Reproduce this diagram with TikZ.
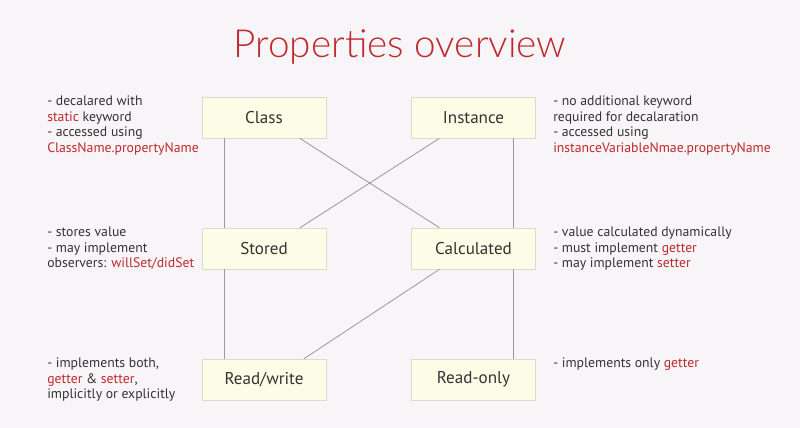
\documentclass[tikz,border=0pt]{standalone}
\usepackage{fontspec}
\setmainfont{PT Sans}
\newfontfamily\titlefont{Lato Light}
\definecolor{bg}{HTML}{F7F5F7}
\definecolor{rd}{HTML}{C0282D}
\definecolor{bx}{HTML}{FBFDE6}
\definecolor{bd}{HTML}{D9DCC8}
\definecolor{tx}{HTML}{333333}
\begin{document}
\begin{tikzpicture}[x=0.75pt,y=-0.75pt,
  box/.style={draw=bd,fill=bx,minimum width=93pt,minimum height=30.75pt,inner sep=0pt,font=\fontsize{12.8}{14}\selectfont,text=tx},
  note/.style={anchor=north west,align=left,font=\fontsize{10.3}{11.6}\selectfont,text=tx,inner sep=0pt},
  ln/.style={draw=gray!80,line width=0.6pt}]
\fill[bg] (0,0) rectangle (800,428);
\node[text=rd,font=\titlefont\fontsize{29}{32}\selectfont] (title) at (400,47) {Properties overview};
\node[box] (class) at (264,117.5) {Class};
\node[box] (inst) at (473.5,117.5) {Instance};
\node[box] (stored) at (264,248.5) {Stored};
\node[box] (calc) at (473.5,248.5) {Calculated};
\node[box] (rw) at (264,379.5) {Read/write};
\node[box] (ro) at (473.5,379.5) {Read-only};
\draw[ln] (class.south west)++(23,0) coordinate (a1) -- (a1 |- stored.north);
\draw[ln] (class.south west)++(98,0) coordinate (a2) -- ([xshift=-25.5pt]calc.north);
\draw[ln] ([xshift=-25.5pt]inst.south) -- ([xshift=27pt]stored.north);
\draw[ln] ([xshift=30pt]inst.south) -- ([xshift=30pt]calc.north);
\draw[ln] (stored.south west)++(23,0) coordinate (b1) -- (b1 |- rw.north);
\draw[ln] ([xshift=-25.5pt]calc.south) -- ([xshift=30pt]rw.north);
\draw[ln] ([xshift=30pt]calc.south) -- ([xshift=30pt]ro.north);
\node[note] (n1) at (47,96) {- decalared with\\\textcolor{rd}{static} keyword\\- accessed using\\\textcolor{rd}{ClassName.propertyName}};
\node[note] (n2) at (553,96) {- no additional keyword\\required for decalaration\\- accessed using\\\textcolor{rd}{instanceVariableNmae.propertyName}};
\node[note] (n3) at (47,227) {- stores value\\- may implement\\observers: \textcolor{rd}{willSet/didSet}};
\node[note] (n4) at (553,227) {- value calculated dynamically\\- must implement \textcolor{rd}{getter}\\- may implement \textcolor{rd}{setter}};
\node[note] (n5) at (47,358) {- implements both,\\\textcolor{rd}{getter} \& \textcolor{rd}{setter},\\implicitly or explicitly};
\node[note] (n6) at (553,358) {- implements only \textcolor{rd}{getter}};
\end{tikzpicture}
\end{document}
